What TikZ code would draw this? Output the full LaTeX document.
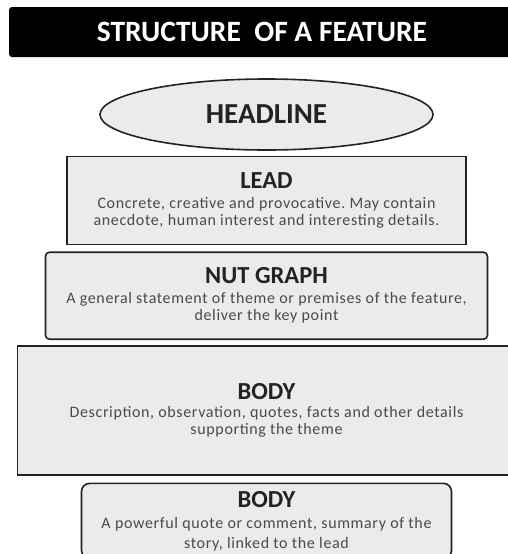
\documentclass[tikz,border=0pt]{standalone}
\usepackage{fontspec}
\setmainfont{Carlito}
\newfontfamily\cuerpofont[LetterSpace=4]{Carlito}
\usetikzlibrary{positioning,shapes.geometric}
\definecolor{caja}{HTML}{EBEBEB}
\definecolor{borde}{HTML}{232323}
\definecolor{letra}{HTML}{4A4A4A}
\newcommand{\cab}[1]{{\rmfamily\color{borde}\fontsize{24.5}{26}\selectfont\bfseries #1}}
\frenchspacing

\begin{document}
\begin{tikzpicture}[x=1pt, y=1pt,
      bar/.style={fill=black, text=white, rounded corners=3pt, minimum width=506pt,
                  minimum height=50pt, inner sep=0pt, font=\fontsize{29.5}{32}\selectfont\bfseries},
      c/.style={draw=borde, fill=caja, line width=1.6pt, align=center, inner sep=0pt,
                text=letra, font=\cuerpofont\fontsize{16}{17}\selectfont}]
    \useasboundingbox (0,0) rectangle (507,-554);
    \node[bar] (titulo) at (262,-32) {STRUCTURE\ \ OF A FEATURE};
    \node[c, ellipse, minimum width=333pt, minimum height=71pt, text=borde,
          font=\fontsize{29}{31}\selectfont\bfseries] (head) at (266.5,-114.5) {HEADLINE};
    \node[c, minimum width=399pt, minimum height=88pt, below=5pt of head] (lead)
      {\cab{LEAD}\\[3pt] Concrete, creative and provocative. May contain\\
       anecdote, human interest and interesting details.};
    \node[c, rounded corners=4pt, minimum width=442pt, minimum height=87pt, below=6pt of lead] (nut)
      {\cab{NUT GRAPH}\\[3pt] A general statement of theme or premises of the feature,\\
       deliver the key point};
    \node[c, minimum width=498pt, minimum height=129pt, below=5pt of nut] (body)
      {\cab{BODY}\\[1pt] Description, observation, quotes, facts and other details\\
       supporting the theme};
    \node[c, rounded corners=8pt, minimum width=370pt, minimum height=75pt, below=7pt of body] (cierre)
      {\cab{BODY}\\[4pt] A powerful quote or comment, summary of the\\[3pt]
       story, linked to the lead};
  \end{tikzpicture}
\end{document}
